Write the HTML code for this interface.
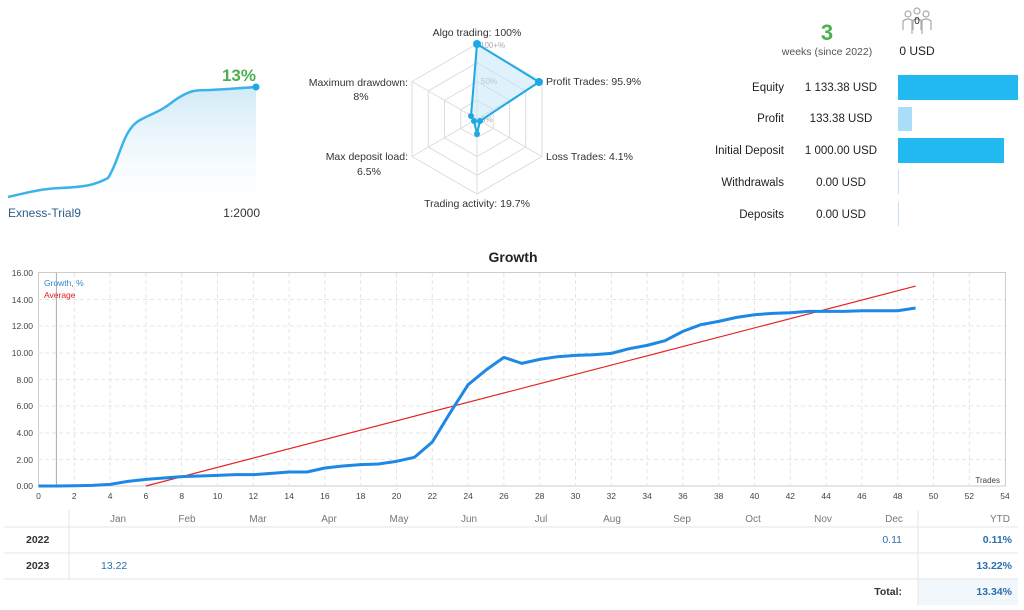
<!DOCTYPE html>
<html><head><meta charset="utf-8"><style>
body{margin:0;width:1024px;height:610px;background:#fff;font-family:"Liberation Sans","DejaVu Sans",sans-serif;overflow:hidden;position:relative}
.t{position:absolute;white-space:nowrap;font-size:11px;color:#333}
</style></head><body>
<svg width="1024" height="610" style="position:absolute;left:0;top:0" font-family="Liberation Sans, DejaVu Sans, sans-serif">
<defs><linearGradient id="g" x1="0" y1="0" x2="0" y2="1"><stop offset="0" stop-color="#cfeaf8"/><stop offset="1" stop-color="#fff" stop-opacity="0.4"/></linearGradient></defs>
<!-- mini chart -->
<path d="M8,197 C30,192 40,189 60,188 C85,187 95,185 108,178 C120,160 122,130 140,120 C155,112 160,112 175,100 C190,90 195,90 210,90 C230,89 240,88 256,87 L256,200 L8,200Z" fill="url(#g)"/>
<path d="M8,197 C30,192 40,189 60,188 C85,187 95,185 108,178 C120,160 122,130 140,120 C155,112 160,112 175,100 C190,90 195,90 210,90 C230,89 240,88 256,87" fill="none" stroke="#3bb3ea" stroke-width="2.5"/>
<circle cx="256" cy="87" r="3.5" fill="#1ea7e6"/>
<text x="256" y="81" font-size="17" font-weight="bold" fill="#4caf50" text-anchor="end">13%</text>
<text x="8" y="217" font-size="12" fill="#2c5d8a">Exness-Trial9</text>
<text x="260" y="217" font-size="12" fill="#333" text-anchor="end">1:2000</text>
<!-- radar -->
<g fill="none" stroke="#ddd" stroke-width="1">
<polygon points="477,44 542,81.5 542,156.5 477,194 412,156.5 412,81.5"/>
<polygon points="477,62.75 525.75,90.9 525.75,147.1 477,175.25 428.25,147.1 428.25,90.9"/>
<polygon points="477,81.5 509.5,100.25 509.5,137.75 477,156.5 444.5,137.75 444.5,100.25"/>
<polygon points="477,100.25 493.25,109.6 493.25,128.4 477,137.75 460.75,128.4 460.75,109.6"/>
<line x1="477" y1="44" x2="477" y2="194"/><line x1="412" y1="81.5" x2="542" y2="156.5"/><line x1="542" y1="81.5" x2="412" y2="156.5"/>
</g>
<text x="480" y="48" font-size="8" fill="#aaa">100+%</text>
<text x="481" y="84" font-size="8" fill="#aaa">50%</text>
<text x="481" y="122" font-size="8" fill="#aaa">0%</text>
<polygon points="477,44 539,82 480,121 477,134 474,121 471,116" fill="#bfe6f7" fill-opacity="0.5" stroke="#1ea7e6" stroke-width="2"/>
<g fill="#1ea7e6"><circle cx="477" cy="44" r="4"/><circle cx="539" cy="82" r="4"/><circle cx="480" cy="121" r="3"/><circle cx="477" cy="134" r="3"/><circle cx="474" cy="121" r="3"/><circle cx="471" cy="116" r="3"/></g>
<g font-size="10.5" fill="#333">
<text x="477" y="36" text-anchor="middle">Algo trading: 100%</text>
<text x="546" y="85">Profit Trades: 95.9%</text>
<text x="546" y="160">Loss Trades: 4.1%</text>
<text x="477" y="207" text-anchor="middle">Trading activity: 19.7%</text>
<text x="408" y="160" text-anchor="end">Max deposit load:</text>
<text x="369" y="175" text-anchor="middle">6.5%</text>
<text x="408" y="86" text-anchor="end">Maximum drawdown:</text>
<text x="361" y="100" text-anchor="middle">8%</text>
</g>
<!-- right panel -->
<text x="827" y="40" font-size="22" font-weight="bold" fill="#4caf50" text-anchor="middle">3</text>
<text x="827" y="55" font-size="10.5" fill="#555" text-anchor="middle">weeks (since 2022)</text>
<g fill="none" stroke="#aaa" stroke-width="1.2"><circle cx="908" cy="14" r="3"/><circle cx="917" cy="11" r="3"/><circle cx="926" cy="14" r="3"/><path d="M903,30 v-9 q5,-4 10,0 v9 M912,34 v-13 q5,-4 10,0 v13 M921,30 v-9 q5,-4 10,0 v9"/></g>
<text x="917" y="24" font-size="10" fill="#222" text-anchor="middle">0</text>
<text x="917" y="55" font-size="12" fill="#222" text-anchor="middle">0 USD</text>
<g font-size="11.5" fill="#222">
<text x="784" y="91" text-anchor="end">Equity</text><text x="841" y="91" text-anchor="middle">1 133.38 USD</text>
<text x="784" y="122" text-anchor="end">Profit</text><text x="841" y="122" text-anchor="middle">133.38 USD</text>
<text x="784" y="154" text-anchor="end">Initial Deposit</text><text x="841" y="154" text-anchor="middle">1 000.00 USD</text>
<text x="784" y="186" text-anchor="end">Withdrawals</text><text x="841" y="186" text-anchor="middle">0.00 USD</text>
<text x="784" y="218" text-anchor="end">Deposits</text><text x="841" y="218" text-anchor="middle">0.00 USD</text>
</g>
<rect x="898" y="75" width="120" height="25" fill="#22b8f0"/>
<rect x="898" y="107" width="14" height="24" fill="#a8def7"/>
<rect x="898" y="138" width="106" height="25" fill="#22b8f0"/>
<rect x="898" y="170" width="1" height="24" fill="#cde"/><rect x="898" y="202" width="1" height="24" fill="#cde"/>
<!-- growth chart -->
<text x="513" y="262" font-size="14" font-weight="bold" fill="#222" text-anchor="middle">Growth</text>
<rect x="38.5" y="272.5" width="967" height="213.5" fill="none" stroke="#ccc"/>
<g stroke="#e4e4e4" stroke-dasharray="4,3">
<line x1="38" y1="299.5" x2="1005" y2="299.5"/><line x1="38" y1="326" x2="1005" y2="326"/><line x1="38" y1="353" x2="1005" y2="353"/><line x1="38" y1="379.5" x2="1005" y2="379.5"/><line x1="38" y1="406" x2="1005" y2="406"/><line x1="38" y1="433" x2="1005" y2="433"/><line x1="38" y1="459.5" x2="1005" y2="459.5"/>
<line x1="74.3" y1="273" x2="74.3" y2="486"/><line x1="110.1" y1="273" x2="110.1" y2="486"/><line x1="145.9" y1="273" x2="145.9" y2="486"/><line x1="181.7" y1="273" x2="181.7" y2="486"/><line x1="217.5" y1="273" x2="217.5" y2="486"/><line x1="253.3" y1="273" x2="253.3" y2="486"/><line x1="289.1" y1="273" x2="289.1" y2="486"/><line x1="324.9" y1="273" x2="324.9" y2="486"/><line x1="360.7" y1="273" x2="360.7" y2="486"/><line x1="396.5" y1="273" x2="396.5" y2="486"/><line x1="432.3" y1="273" x2="432.3" y2="486"/><line x1="468.1" y1="273" x2="468.1" y2="486"/><line x1="503.9" y1="273" x2="503.9" y2="486"/><line x1="539.7" y1="273" x2="539.7" y2="486"/><line x1="575.5" y1="273" x2="575.5" y2="486"/><line x1="611.3" y1="273" x2="611.3" y2="486"/><line x1="647.1" y1="273" x2="647.1" y2="486"/><line x1="682.9" y1="273" x2="682.9" y2="486"/><line x1="718.7" y1="273" x2="718.7" y2="486"/><line x1="754.5" y1="273" x2="754.5" y2="486"/><line x1="790.3" y1="273" x2="790.3" y2="486"/><line x1="826.1" y1="273" x2="826.1" y2="486"/><line x1="861.9" y1="273" x2="861.9" y2="486"/><line x1="897.7" y1="273" x2="897.7" y2="486"/><line x1="933.5" y1="273" x2="933.5" y2="486"/><line x1="969.3" y1="273" x2="969.3" y2="486"/>
</g>
<line x1="56.4" y1="273" x2="56.4" y2="486" stroke="#aaa"/>
<g font-size="8.5" fill="#444" text-anchor="end">
<text x="33" y="276">16.00</text><text x="33" y="303">14.00</text><text x="33" y="329">12.00</text><text x="33" y="356">10.00</text><text x="33" y="383">8.00</text><text x="33" y="409">6.00</text><text x="33" y="436">4.00</text><text x="33" y="463">2.00</text><text x="33" y="489">0.00</text>
</g>
<g font-size="8.5" fill="#444" text-anchor="middle">
<text x="38.5" y="499">0</text><text x="74.3" y="499">2</text><text x="110.1" y="499">4</text><text x="145.9" y="499">6</text><text x="181.7" y="499">8</text><text x="217.5" y="499">10</text><text x="253.3" y="499">12</text><text x="289.1" y="499">14</text><text x="324.9" y="499">16</text><text x="360.7" y="499">18</text><text x="396.5" y="499">20</text><text x="432.3" y="499">22</text><text x="468.1" y="499">24</text><text x="503.9" y="499">26</text><text x="539.7" y="499">28</text><text x="575.5" y="499">30</text><text x="611.3" y="499">32</text><text x="647.1" y="499">34</text><text x="682.9" y="499">36</text><text x="718.7" y="499">38</text><text x="754.5" y="499">40</text><text x="790.3" y="499">42</text><text x="826.1" y="499">44</text><text x="861.9" y="499">46</text><text x="897.7" y="499">48</text><text x="933.5" y="499">50</text><text x="969.3" y="499">52</text><text x="1005" y="499">54</text>
</g>
<text x="1000" y="483" font-size="8" fill="#444" text-anchor="end">Trades</text>
<text x="44" y="286" font-size="8.5" fill="#2a8ad6">Growth, %</text>
<text x="44" y="298" font-size="8.5" fill="#e02020">Average</text>
<g transform="translate(38.5,486) scale(17.9,-13.33)">
<line x1="6" y1="0" x2="49" y2="15" stroke="#e52424" stroke-width="1.2" vector-effect="non-scaling-stroke"/>
<polyline fill="none" stroke="#1e88e5" stroke-width="3" stroke-linejoin="round" vector-effect="non-scaling-stroke" points="0,0 1,0 2,0.02 3,0.05 4,0.12 5,0.35 6,0.5 7,0.6 8,0.7 9,0.75 10,0.8 11,0.85 12,0.85 13,0.95 14,1.05 15,1.05 16,1.35 17,1.5 18,1.6 19,1.65 20,1.85 21,2.15 22,3.3 23,5.5 24,7.6 25,8.7 26,9.65 27,9.2 28,9.5 29,9.7 30,9.8 31,9.85 32,9.95 33,10.3 34,10.55 35,10.9 36,11.6 37,12.1 38,12.35 39,12.65 40,12.85 41,12.95 42,13.0 43,13.1 44,13.1 45,13.1 46,13.15 47,13.15 48,13.15 49,13.35"/>
</g>
<!-- table -->
<rect x="918" y="579" width="100" height="26" fill="#f2f7fc"/>
<g stroke="#e6e6e6"><line x1="4" y1="527" x2="1018" y2="527"/><line x1="4" y1="553" x2="1018" y2="553"/><line x1="4" y1="579" x2="1018" y2="579"/><line x1="69" y1="510" x2="69" y2="579"/><line x1="918" y1="510" x2="918" y2="605"/></g>
<g font-size="10" fill="#777" text-anchor="middle">
<text x="118" y="522">Jan</text><text x="187" y="522">Feb</text><text x="258" y="522">Mar</text><text x="329" y="522">Apr</text><text x="399" y="522">May</text><text x="469" y="522">Jun</text><text x="541" y="522">Jul</text><text x="612" y="522">Aug</text><text x="682" y="522">Sep</text><text x="753" y="522">Oct</text><text x="823" y="522">Nov</text><text x="894" y="522">Dec</text><text x="1010" y="522" text-anchor="end">YTD</text>
</g>
<g font-size="10.5">
<text x="26" y="543" font-weight="bold" fill="#333">2022</text>
<text x="26" y="569" font-weight="bold" fill="#333">2023</text>
<text x="902" y="543" fill="#2a6fb0" text-anchor="end">0.11</text>
<text x="1012" y="543" fill="#2a6fb0" font-weight="bold" text-anchor="end">0.11%</text>
<text x="101" y="569" fill="#2a6fb0">13.22</text>
<text x="1012" y="569" fill="#2a6fb0" font-weight="bold" text-anchor="end">13.22%</text>
<text x="902" y="595" fill="#333" font-weight="bold" text-anchor="end">Total:</text>
<text x="1012" y="595" fill="#2a6fb0" font-weight="bold" text-anchor="end">13.34%</text>
</g>
</svg>
</body></html>
